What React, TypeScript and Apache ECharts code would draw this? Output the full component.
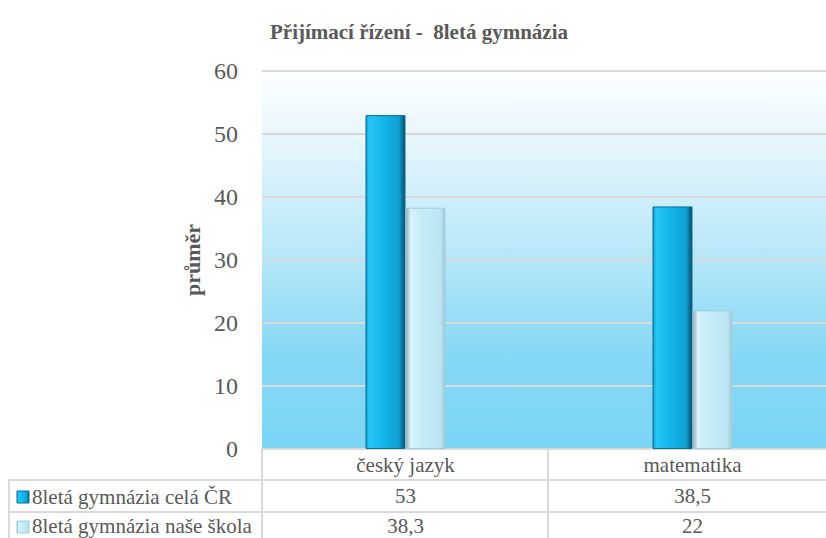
import React, { useEffect, useRef } from "react";
import * as echarts from "echarts";

const categories = ["český jazyk", "matematika"];
const seriesNames = ["8letá gymnázia celá ČR", "8letá gymnázia naše škola"];
const valuesCR = [53, 38.5];
const valuesSchool = [38.3, 22];
const yTicks = { min: 0, max: 60, interval: 10 };
const title = "Přijímací řízení -  8letá gymnázia";
const yName = "průměr";

const fmt = (v: number) => String(v).replace(".", ",");
const FONT = "Liberation Serif";
const GRAY = "#595959";
const LINE = "#d9d9d9";

export default function App() {
  const ref = useRef<HTMLDivElement>(null);
  useEffect(() => {
    if (!ref.current) return;
    const chart = echarts.init(ref.current, undefined, { renderer: "svg" });
    const L = 262, T = 71, B = 449, W = 574;
    const blueGrad = new echarts.graphic.LinearGradient(0, 0, 1, 0, [
      { offset: 0, color: "#1397c4" },
      { offset: 0.08, color: "#25c6f6" },
      { offset: 0.5, color: "#12b4ea" },
      { offset: 0.85, color: "#0e9fd0" },
      { offset: 1, color: "#0a4a68" },
    ]);
    const lightGrad = new echarts.graphic.LinearGradient(0, 0, 1, 0, [
      { offset: 0, color: "#8fa8b2" },
      { offset: 0.12, color: "#d7f2fb" },
      { offset: 0.5, color: "#c2eaf7" },
      { offset: 0.88, color: "#bde6f4" },
      { offset: 1, color: "#9cc8d6" },
    ]);
    const valueAxis = (offset: number, vals: number[]) => ({
      type: "category",
      data: categories,
      position: "bottom",
      offset,
      axisLine: { show: false },
      axisTick: { show: false },
      axisLabel: {
        fontFamily: FONT,
        fontSize: 21,
        color: GRAY,
        margin: 5,
        formatter: (_v: string, i: number) => fmt(vals[i]),
      },
    });
    const option: any = {
      animation: false,
      textStyle: { fontFamily: FONT },
      title: {
        text: title,
        left: 414,
        textAlign: "center",
        top: 16,
        textStyle: { fontFamily: FONT, fontSize: 21, fontWeight: "bold", color: GRAY },
      },
      grid: {
        left: L,
        width: W,
        top: T,
        height: B - T,
        outerBoundsMode: "none",
        containLabel: false,
        show: true,
        borderWidth: 0,
        backgroundColor: new echarts.graphic.LinearGradient(0, 0, 0, 1, [
          { offset: 0, color: "#ffffff" },
          { offset: 0.2, color: "#e3f5fc" },
          { offset: 0.5, color: "#b5e6f8" },
          { offset: 0.75, color: "#86d8f5" },
          { offset: 1, color: "#7bd5f4" },
        ]),
      },
      xAxis: [
        {
          type: "category",
          data: categories,
          axisLine: { show: true, lineStyle: { color: LINE, width: 2 } },
          axisTick: { show: false },
          axisLabel: { fontFamily: FONT, fontSize: 21, color: GRAY, margin: 5 },
        },
        valueAxis(31, valuesCR),
        valueAxis(61, valuesSchool),
      ],
      yAxis: {
        type: "value",
        min: yTicks.min,
        max: yTicks.max,
        interval: yTicks.interval,
        name: yName,
        nameLocation: "middle",
        nameRotate: 90,
        nameGap: 55,
        nameTextStyle: { fontFamily: FONT, fontSize: 22, fontWeight: "bold", color: GRAY },
        axisLine: { show: false },
        axisTick: { show: false },
        axisLabel: { fontFamily: FONT, fontSize: 24, color: GRAY, margin: 24 },
        splitLine: { lineStyle: { color: LINE, width: 2 } },
      },
      series: [
        {
          name: seriesNames[0],
          type: "bar",
          data: valuesCR,
          barWidth: 40,
          barGap: "0%",
          itemStyle: { color: blueGrad, borderColor: "#0b6f96", borderWidth: 1 },
        },
        {
          name: seriesNames[1],
          type: "bar",
          data: valuesSchool,
          barWidth: 40,
          itemStyle: { color: lightGrad, borderColor: "#9fcfdf", borderWidth: 1 },
        },
      ],
      graphic: [
        { type: "line", shape: { x1: L, y1: B, x2: L, y2: 538 }, style: { stroke: LINE, lineWidth: 2 } },
        { type: "line", shape: { x1: 548, y1: B, x2: 548, y2: 538 }, style: { stroke: LINE, lineWidth: 2 } },
        { type: "line", shape: { x1: 8, y1: 480, x2: 826, y2: 480 }, style: { stroke: LINE, lineWidth: 2 } },
        { type: "line", shape: { x1: 8, y1: 512, x2: 826, y2: 512 }, style: { stroke: LINE, lineWidth: 2 } },
        { type: "line", shape: { x1: 9, y1: 480, x2: 9, y2: 538 }, style: { stroke: LINE, lineWidth: 2 } },
        {
          type: "rect",
          shape: { x: 17, y: 491, width: 12, height: 12 },
          style: { fill: blueGrad, stroke: "#0b6f96", lineWidth: 1 },
        },
        {
          type: "rect",
          shape: { x: 17, y: 521, width: 12, height: 12 },
          style: { fill: lightGrad, stroke: "#9fcfdf", lineWidth: 1 },
        },
        {
          type: "text",
          x: 32,
          y: 497,
          style: { text: seriesNames[0], fontFamily: FONT, fontSize: 21, fill: GRAY, verticalAlign: "middle" },
        },
        {
          type: "text",
          x: 32,
          y: 526,
          style: { text: seriesNames[1], fontFamily: FONT, fontSize: 21, fill: GRAY, verticalAlign: "middle" },
        },
      ],
    };
    chart.setOption(option);
    return () => chart.dispose();
  }, []);
  return (
    <div
      ref={ref}
      style={{ position: "fixed", left: 0, top: 0, width: 826, height: 538, background: "#fff" }}
    />
  );
}
